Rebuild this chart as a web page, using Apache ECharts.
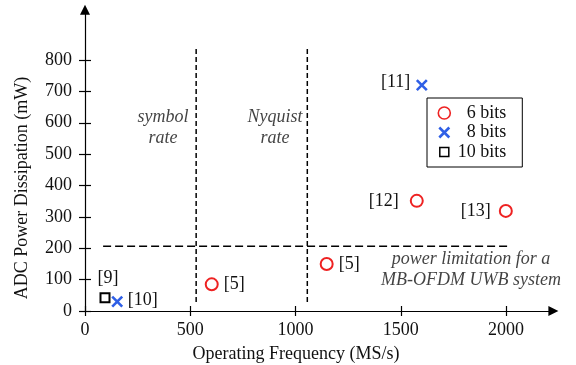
<!DOCTYPE html>
<html><head><meta charset="utf-8">
<script src="https://cdn.jsdelivr.net/npm/echarts@6/dist/echarts.min.js"></script>
<style>html,body{margin:0;padding:0;background:#fff}#c{width:576px;height:365px}</style>
</head><body><div id="c"></div>
<script>
// ---- data ----
const xTicks = [0, 500, 1000, 1500, 2000];
const yTicks = [0, 100, 200, 300, 400, 500, 600, 700, 800];
const sixBitFreq = [602, 1148, 1576, 1999];
const sixBitPower = [85, 150, 351, 319];
const sixBitRef = ['[5]', '[5]', '[12]', '[13]'];
const eightBitFreq = [153, 1600];
const eightBitPower = [30, 720];
const eightBitRef = ['[10]', '[11]'];
const tenBitFreq = [95];
const tenBitPower = [42];
const tenBitRef = ['[9]'];
const symbolRateFreq = 528;
const nyquistRateFreq = 1056;
const rateLineSpan = [29, 841];
const powerLimit = 206;
const powerLimitSpan = [86, 2019];
const noteText = ['symbol\nrate', 'Nyquist\nrate', 'power limitation for a\nMB-OFDM UWB system'];
const noteFreq = [370, 903, 1834];
const notePower = [583, 583, 132];

// ---- label layout (style only) ----
const sixLabel = [['right', 5, [0, 0]], ['right', 5, [0, 0]], ['left', 11, [0, 0]], ['left', 8, [0, 0]]];
const eightLabel = [['right', 3, [0, -1]], ['left', 4, [0, -3]]];
const tenLabel = [['top', 5, [3, 0]]];

const FONT = 'Liberation Serif';
const RED = '#ee2222', BLUE = '#2f5fe6', BLACK = '#000';

function pts(xs, ys, refs, lay) {
  return xs.map((x, i) => ({
    value: [x, ys[i]],
    label: { show: true, formatter: refs[i], position: lay[i][0], distance: lay[i][1], offset: lay[i][2] }
  }));
}
const labelBase = { fontFamily: FONT, fontSize: 18, color: '#111' };

const chart = echarts.init(document.getElementById('c'));
const X_MAX = 2225, Y_MAX = 960;
const axisFont = { fontFamily: FONT, fontSize: 18, color: '#111', formatter: v => String(v) };
chart.setOption({
  animation: false,
  grid: { left: 85, right: 22.6, top: 9.8, bottom: 54, outerBoundsMode: 'none', containLabel: false },
  xAxis: [
    { type: 'value', min: 0, max: X_MAX, position: 'bottom',
      axisLine: { show: true, onZero: false, symbol: ['none', 'triangle'], symbolSize: [10, 10], lineStyle: { color: BLACK, width: 1.2 } },
      axisTick: { show: true, length: 5, customValues: xTicks, lineStyle: { color: BLACK, width: 1.2 } },
      axisLabel: { show: true, customValues: xTicks, margin: 10, ...axisFont },
      splitLine: { show: false } },
    { type: 'value', min: 0, max: X_MAX, position: 'bottom',
      axisLine: { show: false, onZero: false },
      axisTick: { show: true, inside: true, length: 5, customValues: xTicks, lineStyle: { color: BLACK, width: 1.2 } },
      axisLabel: { show: false }, splitLine: { show: false } }
  ],
  yAxis: [
    { type: 'value', min: 0, max: Y_MAX, position: 'left',
      axisLine: { show: true, onZero: false, symbol: ['none', 'triangle'], symbolSize: [10, 10], lineStyle: { color: BLACK, width: 1.2 } },
      axisTick: { show: true, length: 6, customValues: yTicks, lineStyle: { color: BLACK, width: 1.2 } },
      axisLabel: { show: true, customValues: yTicks, margin: 13, ...axisFont },
      splitLine: { show: false } },
    { type: 'value', min: 0, max: Y_MAX, position: 'left',
      axisLine: { show: false, onZero: false },
      axisTick: { show: true, inside: true, length: 6, customValues: yTicks, lineStyle: { color: BLACK, width: 1.2 } },
      axisLabel: { show: false }, splitLine: { show: false } }
  ],
  legend: {
    data: [
      { name: '6 bits', icon: 'path://M0,0M14,14M7,1A6,6 0 1 1 6.99,1Z',
        itemStyle: { color: 'rgba(0,0,0,0)', borderColor: RED, borderWidth: 1.6, opacity: 1 } },
      { name: '8 bits', icon: 'path://M0,0M14,14M2,2L12,12M12,2L2,12',
        itemStyle: { color: 'rgba(0,0,0,0)', borderColor: BLUE, borderWidth: 2.6, opacity: 1 } },
      { name: '10 bits', icon: 'path://M0,0M14,14M2.5,2.5H11.5V11.5H2.5Z',
        itemStyle: { color: 'rgba(0,0,0,0)', borderColor: BLACK, borderWidth: 1.5, opacity: 1 } }
    ],
    orient: 'vertical', left: 427, top: 98,
    itemWidth: 14, itemHeight: 14, itemGap: 1.5,
    padding: [6, 16, 6, 9],
    backgroundColor: '#fff', borderColor: BLACK, borderWidth: 1,
    formatter: n => '{a|' + n + '}',
    textStyle: { fontFamily: FONT, fontSize: 18, color: '#111', lineHeight: 18, rich: { a: { width: 50, align: 'right', fontFamily: FONT, fontSize: 18, color: '#111', lineHeight: 18 } } }
  },
  graphic: [
    { type: 'text', x: 22, y: 188, rotation: Math.PI / 2,
      style: { text: 'ADC Power Dissipation (mW)', font: '18px "Liberation Serif"', fill: '#111', align: 'center', verticalAlign: 'middle' } },
    { type: 'text', x: 296, y: 354,
      style: { text: 'Operating Frequency (MS/s)', font: '18px "Liberation Serif"', fill: '#111', align: 'center', verticalAlign: 'middle' } }
  ],
  series: [
    { type: 'line', silent: true, symbol: 'none', data: [[symbolRateFreq, rateLineSpan[0]], [symbolRateFreq, rateLineSpan[1]]],
      lineStyle: { color: BLACK, width: 1.5, type: [5, 3] }, z: 1 },
    { type: 'line', silent: true, symbol: 'none', data: [[nyquistRateFreq, rateLineSpan[0]], [nyquistRateFreq, rateLineSpan[1]]],
      lineStyle: { color: BLACK, width: 1.5, type: [5, 3] }, z: 1 },
    { type: 'line', silent: true, symbol: 'none', data: [[powerLimitSpan[0], powerLimit], [powerLimitSpan[1], powerLimit]],
      lineStyle: { color: BLACK, width: 1.5, type: [8, 4] }, z: 1 },
    { type: 'scatter', silent: true, symbolSize: 0,
      data: noteFreq.map((x, i) => ({ value: [x, notePower[i]], label: { formatter: noteText[i] } })),
      label: { show: true, position: 'inside', fontFamily: FONT, fontSize: 18, fontStyle: 'italic', color: '#111', lineHeight: 21, align: 'center' } },
    { name: '6 bits', type: 'scatter', symbol: 'emptyCircle', symbolSize: 12,
      itemStyle: { color: RED, borderColor: RED, borderWidth: 1.6, opacity: 1 },
      label: labelBase,
      data: pts(sixBitFreq, sixBitPower, sixBitRef, sixLabel) },
    { name: '8 bits', type: 'scatter', symbol: 'path://M0,0L10,10M10,0L0,10', symbolSize: 10,
      itemStyle: { color: 'none', borderColor: BLUE, borderWidth: 2.6, opacity: 1 },
      label: labelBase,
      data: pts(eightBitFreq, eightBitPower, eightBitRef, eightLabel) },
    { name: '10 bits', type: 'scatter', symbol: 'emptyRect', symbolSize: 9,
      itemStyle: { color: BLACK, borderColor: BLACK, borderWidth: 1.5, opacity: 1 },
      label: labelBase,
      data: pts(tenBitFreq, tenBitPower, tenBitRef, tenLabel) }
  ]
});
</script></body></html>
